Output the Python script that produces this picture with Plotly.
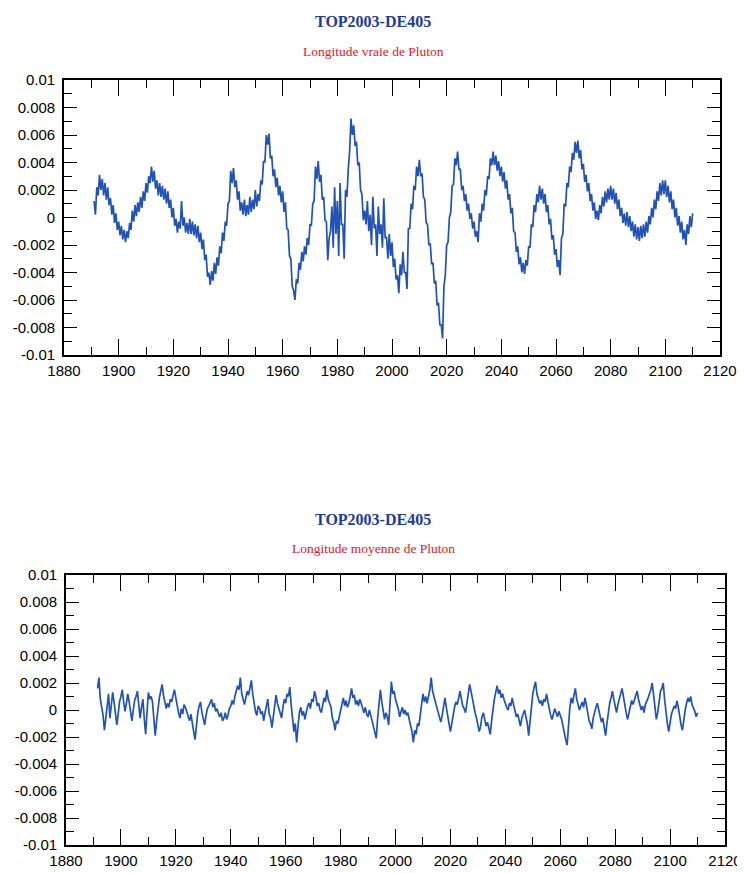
import numpy as np
import plotly.graph_objects as go

# ---------------- data (values in units of 1e-4) ----------------
TOP_START = 1891.0      # first sample year, half-year sampling
true_lon_e4 = [
    12, 2, 22, 16, 31, 20, 28, 16, 25, 13,
    22, 9, 14, 2, 9, -4, 3, -9, -3, -13,
    -6, -16, -9, -18, -10, -15, -4, -9, 5, -3,
    9, 1, 11, 4, 15, 7, 19, 12, 25, 18,
    30, 25, 37, 26, 34, 21, 27, 16, 25, 15,
    23, 13, 21, 10, 19, 7, 13, 0, 7, -6,
    -1, -11, -3, -8, 12, -6, 0, -11, -4, -12,
    -1, -12, -3, -13, -5, -15, -6, -18, -11, -23,
    -16, -31, -27, -43, -40, -49, -39, -46, -33, -41,
    -29, -35, -21, -26, -11, -17, -3, -6, 10, 12,
    34, 25, 36, 22, 27, 13, 19, 5, 11, 2,
    13, 1, 9, 2, 15, 4, 13, 6, 20, 8,
    17, 12, 27, 24, 41, 40, 60, 53, 61, 43,
    45, 30, 35, 22, 29, 16, 23, 11, 19, 4,
    11, -8, -9, -28, -30, -50, -53, -60, -45, -48,
    -33, -38, -25, -32, -21, -27, -15, -20, -5, -6,
    10, 12, 37, 28, 41, 26, 31, 13, 15, -2,
    -3, -31, -15, -10, 8, -22, 22, -12, 12, -28,
    25, -5, -5, -30, 20, 15, 35, 48, 72, 60,
    67, 52, 55, 38, 40, 20, 17, -2, 5, -5,
    12, -10, 2, -20, 15, -8, -5, -28, 8, -12,
    -5, -22, 14, -15, -14, -30, -12, -28, -18, -36,
    -30, -45, -42, -55, -34, -42, -25, -40, -40, -52,
    -8, -8, 10, 6, 23, 20, 37, 30, 42, 30,
    32, 15, 13, -4, -5, -20, -19, -34, -33, -48,
    -46, -64, -62, -78, -78, -88, -50, -42, -20, -18,
    0, 4, 23, 24, 43, 38, 48, 35, 35, 20,
    23, 12, 17, 5, 10, -1, 3, -8, -3, -14,
    -10, -18, 3, -3, 10, 5, 20, 16, 30, 28,
    43, 38, 48, 38, 45, 34, 41, 30, 37, 26,
    33, 21, 27, 13, 17, 3, 7, -10, -11, -25,
    -21, -34, -29, -40, -33, -41, -31, -35, -21, -22,
    -5, -7, 9, 4, 17, 11, 23, 13, 21, 10,
    17, 4, 9, -5, -1, -16, -13, -27, -23, -36,
    -31, -42, -15, -12, 10, 8, 25, 22, 37, 33,
    47, 42, 55, 47, 56, 43, 49, 35, 39, 26,
    31, 19, 25, 12, 17, 5, 11, -1, 5, -2,
    9, 3, 15, 8, 19, 11, 21, 13, 23, 13,
    21, 10, 18, 6, 13, 1, 7, -4, 3, -6,
    4, -7, 1, -10, -3, -14, -5, -16, -7, -17,
    -6, -15, -5, -14, -3, -11, 1, -5, 7, 0,
    13, 6, 19, 12, 25, 16, 27, 17, 27, 15,
    23, 11, 19, 6, 13, 0, 7, -6, 1, -11,
    -3, -16, -9, -20, -5, -12, 1, -7, 3,
]

BOT_START = 1891.5
mean_lon_e4 = [
    16,
    24, 8, 2, -4, -15, -6, 4, 12, -6, 3,
    13, 6, -2, -11, -3, 6, 10, 15, 6, -1,
    5, 12, 6, -2, -8, 0, 7, 10, 14, 4,
    -6, 2, 8, -6, -18, -2, 13, 8, 10, 6,
    -8, -19, -8, 2, 9, 14, 19, 11, 6, 1,
    5, 2, 8, 6, 11, 15, 9, 2, -2, -6,
    1, -3, 4, 2, -2, -5, -8, -3, -11, -16,
    -22, -10, -2, 3, 6, -2, -6, -11, -4, 1,
    3, 6, 8, 2, 5, -1, 1, -3, -5, -2,
    -8, -6, -2, -7, -4, 1, 3, 7, 4, 10,
    14, 18, 15, 24, 12, 8, 4, 9, 14, 11,
    18, 22, 12, 4, -1, -4, 3, 1, -3, -1,
    -8, -2, 4, 8, -3, -6, -13, -4, 3, 11,
    5, 1, -2, -6, 2, 8, 5, 12, 10, 17,
    4, -6, -16, -10, -24, -12, -2, 2, -4, -1,
    -7, -2, 3, 5, 1, 8, 6, 14, 10, 3,
    5, 0, -2, 4, 9, 6, 15, 8, 4, 2,
    -6, -9, -15, -8, -10, -5, 1, 4, 9, 3,
    7, 2, 5, 10, 16, 9, 11, 4, 7, 3,
    8, 5, 1, -2, 2, -3, -5, 0, -4, -8,
    -12, -16, -21, -6, 8, 15, 6, 0, -7, -2,
    -5, -11, 4, 21, 12, 14, 8, 5, 1, -5,
    -2, 2, -3, 0, -4, -2, -7, -12, -16, -24,
    -15, -18, -10, -12, -3, 4, 12, 6, 10, 5,
    9, 15, 24, 14, 10, 6, 2, -2, -5, -9,
    -4, 3, 9, 2, -6, -10, -16, -8, -4, 2,
    6, 4, 10, 14, 8, 3, 1, -2, 5, 12,
    19, 14, 8, 2, -2, -6, -10, -16, -12, -5,
    -2, -8, -12, -9, -14, -18, -8, 2, 8, 13,
    18, 12, 15, 9, 12, 8, 4, 2, 0, 5,
    3, 9, 4, -1, -5, -3, -8, -12, -6, -2,
    0, -5, -10, -19, -9, 3, 12, 17, 21, 12,
    8, 5, 7, 3, 8, 6, 12, 5, 1, -4,
    -7, -3, 1, -2, -5, -1, -4, -7, -12, -18,
    -22, -26, -10, 2, 9, 5, 11, 16, 8, 4,
    0, 3, 6, 2, 9, 4, -2, -8, -10, -14,
    -6, -1, 2, 5, 0, -4, -9, -6, -12, -19,
    -10, -2, 5, 9, 14, 8, 3, -2, 4, 8,
    12, 16, 10, 3, -2, -7, -3, 2, 7, 4,
    8, 11, 14, 8, 4, 0, 3, -2, 4, 6,
    9, 12, 15, 20, 9, 2, -7, -2, 8, 14,
    16, 20, 8, -4, -10, -16, -8, -3, 0, 3,
    1, 7, 2, -6, -11, -15, -6, 0, 5, 9,
    6, 10, 4, 2, -1, -5, -2,
]

x_tick_vals = [1880, 1900, 1920, 1940, 1960, 1980, 2000, 2020, 2040, 2060, 2080, 2100, 2120]
x_minor_vals = [1890, 1910, 1930, 1950, 1970, 1990, 2010, 2030, 2050, 2070, 2090, 2110]
y_tick_vals = [0.01, 0.008, 0.006, 0.004, 0.002, 0, -0.002, -0.004, -0.006, -0.008, -0.01]
y_tick_text = ["0.01", "0.008", "0.006", "0.004", "0.002", "0", "-0.002", "-0.004",
               "-0.006", "-0.008", "-0.01"]
y_minor_vals = [0.009, 0.007, 0.005, 0.003, 0.001, -0.001, -0.003, -0.005, -0.007, -0.009]

main_title = "TOP2003-DE405"
sub_top = "Longitude vraie de Pluton"
sub_bot = "Longitude moyenne de Pluton"

# ---------------- figure ----------------
top_y = np.array(true_lon_e4) * 1e-4
top_x = TOP_START + 0.5 * np.arange(len(top_y))
bot_y = np.array(mean_lon_e4) * 1e-4
bot_x = BOT_START + 0.5 * np.arange(len(bot_y))

W, H = 745, 873
OFF = 8          # page body margin in the browser
LINE = "#2152b4"

fig = go.Figure()
fig.add_trace(go.Scatter(x=top_x, y=top_y, mode="lines",
                         line=dict(color=LINE, width=1.7), xaxis="x", yaxis="y",
                         showlegend=False, hoverinfo="skip"))
fig.add_trace(go.Scatter(x=bot_x, y=bot_y, mode="lines",
                         line=dict(color=LINE, width=1.7), xaxis="x2", yaxis="y2",
                         showlegend=False, hoverinfo="skip"))

tickfont = dict(family="Liberation Sans, Arial, sans-serif", size=15, color="black")


def xaxis(domain, anchor):
    return dict(domain=domain, anchor=anchor, range=[1880, 2120], automargin=False,
                tickmode="array", tickvals=x_tick_vals,
                ticktext=[str(v) for v in x_tick_vals],
                ticks="inside", ticklen=16, tickwidth=1.4, tickcolor="black",
                minor=dict(tickmode="array", tickvals=x_minor_vals, ticks="inside",
                           ticklen=8, tickwidth=1.3, tickcolor="black", showgrid=False),
                showline=True, linecolor="black", linewidth=1.6, mirror="ticks",
                showgrid=False, zeroline=False, tickfont=tickfont, ticklabelstandoff=1)


def yaxis(domain, anchor):
    return dict(domain=domain, anchor=anchor, range=[-0.01, 0.01], automargin=False,
                tickmode="array", tickvals=y_tick_vals, ticktext=y_tick_text,
                ticks="inside", ticklen=13, tickwidth=1.4, tickcolor="black",
                minor=dict(tickmode="array", tickvals=y_minor_vals, ticks="inside",
                           ticklen=8, tickwidth=1.3, tickcolor="black", showgrid=False),
                showline=True, linecolor="black", linewidth=1.6, mirror="ticks",
                showgrid=False, zeroline=False, tickfont=tickfont, ticklabelstandoff=4)


def px_x(p):
    return (p - OFF) / W


def px_y(p):
    return 1 - (p - OFF) / H


fig.update_layout(
    width=W, height=H, autosize=False,
    margin=dict(l=0, r=0, t=0, b=0, autoexpand=False),
    paper_bgcolor="white", plot_bgcolor="white",
    xaxis=xaxis([px_x(64), px_x(720)], "y"),
    yaxis=yaxis([px_y(355), px_y(80)], "x"),
    xaxis2=xaxis([px_x(66), px_x(725)], "y2"),
    yaxis2=yaxis([px_y(845), px_y(575)], "x2"),
)

serif = "Liberation Serif, Times New Roman, serif"
for ty, sy, sub in [(22, 51, sub_top), (519, 548, sub_bot)]:
    fig.add_annotation(text="<b>" + main_title + "</b>", xref="paper", yref="paper",
                       x=px_x(373), y=px_y(ty), showarrow=False,
                       xanchor="center", yanchor="middle",
                       font=dict(family=serif, size=16, color="#1a3c9c"))
    fig.add_annotation(text=sub, xref="paper", yref="paper",
                       x=px_x(373), y=px_y(sy), showarrow=False,
                       xanchor="center", yanchor="middle",
                       font=dict(family=serif, size=13.5, color="#e0182c"))

fig.write_html("out.html")
